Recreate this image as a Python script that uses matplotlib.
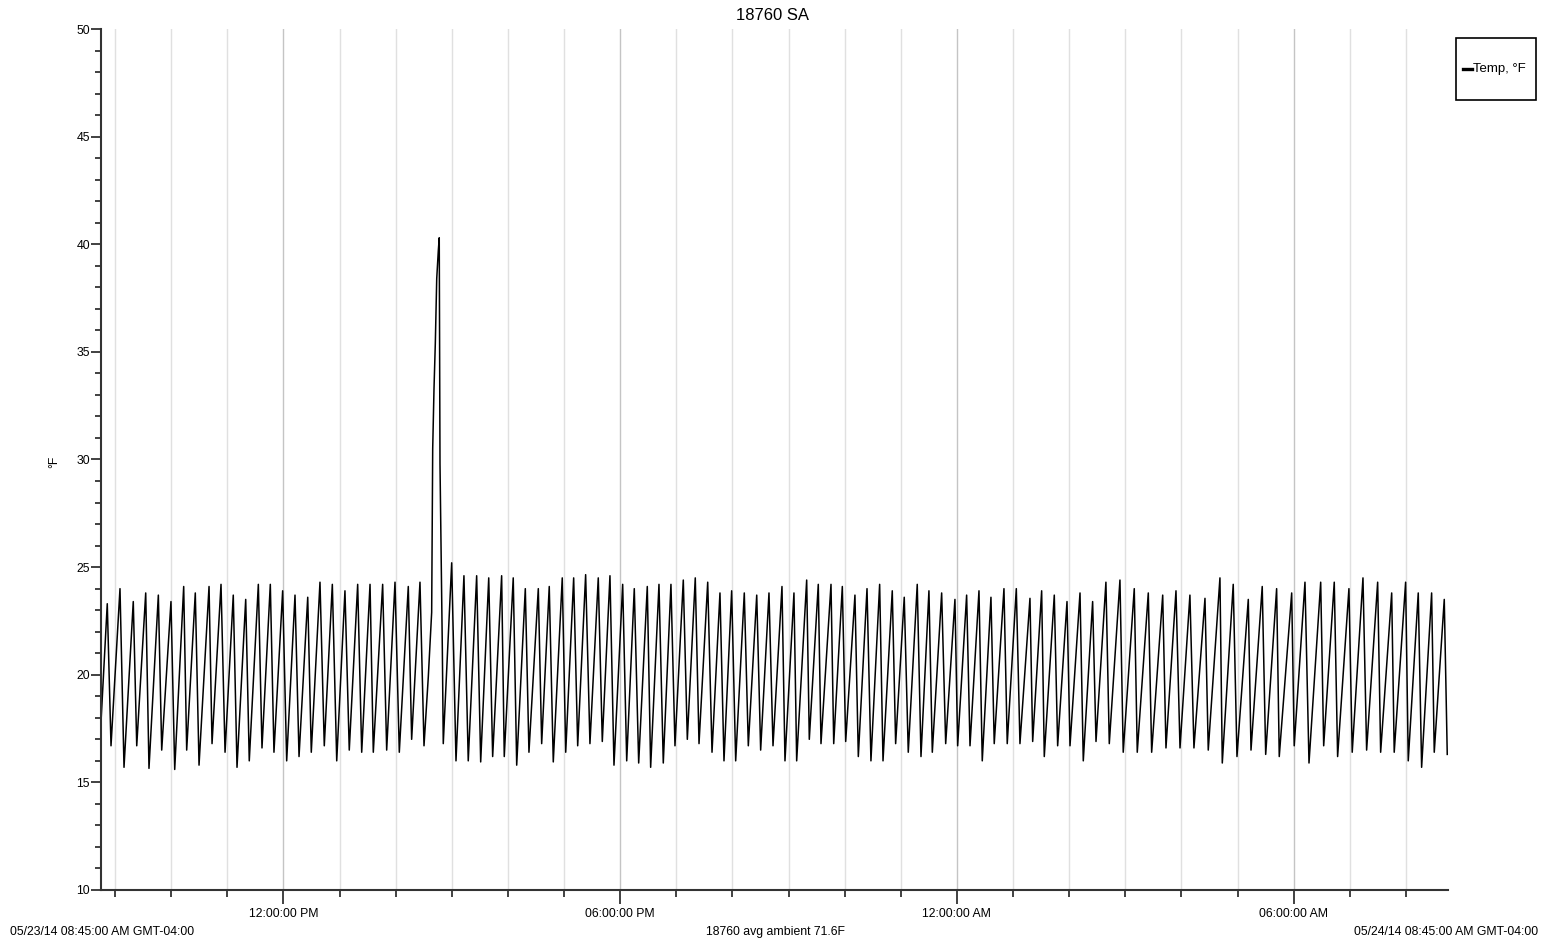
"""
18760 SA temperature log, 24 h window.
"""

import pandas as pd
import matplotlib.pyplot as plt
import matplotlib.dates as mdates
from matplotlib.lines import Line2D
from matplotlib.patches import Rectangle
from matplotlib.ticker import MultipleLocator

plt.rcParams["font.family"] = ["Liberation Sans", "DejaVu Sans"]

start = pd.Timestamp("2014-05-23 08:45:00")

# turning points of the trace: minutes after start, temperature in F
minutes = [
    0.0, 6.7, 10.7, 20.3, 24.6, 34.5, 38.2, 47.8, 51.3, 61.3, 64.9, 74.8, 78.8,
    88.4, 91.6, 100.8, 104.8, 115.5, 118.7, 128.3, 132.6, 141.4, 145.4, 154.7,
    158.5, 168.2, 172.1, 181.0, 184.9, 194.2, 198.5, 207.4, 211.7, 221.0, 224.8,
    234.1, 238.7, 247.3, 252.0, 260.8, 265.4, 274.4, 278.7, 287.6, 291.1, 301.1,
    305.4, 314.3, 318.9, 328.5, 332.1, 341.0, 345.3,
    349.9, 353.5, 354.6, 356.0, 357.4, 358.9, 360.6, 361.6, 362.4, 363.8, 364.9, 365.9,
    374.9, 379.5, 388.0, 392.6, 401.6, 405.9, 414.5, 418.7, 428.3, 431.1, 440.7,
    444.4, 453.6, 457.5, 467.5, 471.1, 479.2, 483.5, 493.1, 496.8, 505.3, 509.6,
    518.1, 522.7, 531.6, 535.9, 544.1, 548.4, 557.7, 562.0, 570.1, 574.8, 584.0,
    587.6, 596.5, 601.1, 609.3, 613.6, 622.5, 626.8, 635.3, 639.3, 648.6, 653.2,
    661.7, 666.0, 674.2, 678.5, 687.7, 692.0, 701.0, 705.2, 714.1, 718.4, 728.0,
    731.2, 740.8, 743.7, 754.4, 757.2, 766.8, 769.7, 780.4, 783.3, 792.5, 796.1,
    806.0, 809.6, 818.9, 823.1, 832.4, 836.0, 845.9, 849.5, 858.7, 863.0, 872.6,
    876.6, 885.1, 888.7, 898.7, 903.0, 912.9, 915.8, 925.4, 929.0, 938.6, 942.1,
    951.4, 954.9, 965.3, 968.8, 978.5, 982.4, 993.1, 996.0, 1005.6, 1008.4,
    1019.1, 1022.7, 1032.7, 1035.9, 1046.6, 1050.1, 1060.1, 1063.7, 1074.3,
    1077.9, 1089.3, 1092.8, 1104.6, 1107.8, 1119.6, 1123.2, 1135.0, 1138.5,
    1149.2, 1153.5, 1164.1, 1168.4, 1180.2, 1183.7, 1196.2, 1198.7, 1210.4,
    1214.4, 1226.5, 1229.4, 1241.4, 1245.1, 1256.8, 1259.6, 1272.9, 1275.6,
    1287.1, 1291.4, 1303.9, 1307.1, 1318.4, 1322.0, 1334.1, 1337.6, 1349.1,
    1353.0, 1364.8, 1368.0, 1379.8, 1382.5, 1394.7, 1397.5, 1408.2, 1411.8,
    1422.5, 1425.3, 1436.0, 1439.2,
]
temps = [
    17.8, 23.3, 16.7, 24.0, 15.7, 23.4, 16.7, 23.8, 15.65, 23.7, 16.5, 23.4, 15.6,
    24.1, 16.5, 23.8, 15.8, 24.1, 16.8, 24.2, 16.4, 23.7, 15.7, 23.5,
    16.0, 24.2, 16.6, 24.2, 16.4, 23.9, 16.0, 23.7, 16.2, 23.6, 16.4,
    24.3, 16.7, 24.2, 16.0, 23.9, 16.5, 24.2, 16.4, 24.2, 16.4, 24.2,
    16.5, 24.3, 16.4, 24.1, 17.0, 24.3, 16.7,
    19.9, 22.9, 30.5, 33.3, 35.4, 38.4, 39.7, 40.3, 29.8, 25.0, 21.2, 16.8,
    25.2, 16.0, 24.6, 16.0, 24.6, 15.95, 24.5, 16.2, 24.6, 16.2, 24.5,
    15.8, 24.0, 16.4, 24.0, 16.8, 24.1, 15.95, 24.5, 16.4, 24.5, 16.7,
    24.65, 16.8, 24.5, 16.9, 24.6, 15.8, 24.2, 16.0, 24.0, 15.9, 24.1,
    15.7, 24.2, 15.9, 24.2, 16.7, 24.4, 17.0, 24.5, 16.8, 24.3, 16.4,
    23.8, 16.0, 23.9, 16.0, 23.8, 16.7, 23.7, 16.5, 23.8, 16.7, 24.1,
    16.0, 23.8, 16.0, 24.4, 17.0, 24.2, 16.8, 24.2, 16.8, 24.1, 16.9,
    23.7, 16.2, 24.0, 16.0, 24.2, 16.0, 23.9, 16.8, 23.6, 16.4, 24.2,
    16.2, 23.9, 16.4, 23.8, 16.8, 23.5, 16.7, 23.7, 16.7, 23.9, 16.0,
    23.6, 16.8, 24.0, 16.8, 24.0, 16.8, 23.55, 16.9, 23.9, 16.2,
    23.7, 16.7, 23.4, 16.7, 23.8, 16.0, 23.4, 16.9, 24.3,
    16.8, 24.4, 16.4, 24.0, 16.4, 23.8, 16.4, 23.7, 16.6,
    23.9, 16.6, 23.7, 16.6, 23.55, 16.5, 24.5, 15.9, 24.2,
    16.2, 23.5, 16.5, 24.1, 16.3, 24.0, 16.2, 23.8, 16.7,
    24.3, 15.9, 24.3, 16.7, 24.3, 16.2, 24.0, 16.4, 24.5,
    16.5, 24.3, 16.4, 23.8, 16.4, 24.3, 16.0, 23.8, 15.7,
    23.8, 16.4, 23.5, 16.3,
]

title = "18760 SA"
series_label = "Temp, °F"
footer_left = "05/23/14 08:45:00 AM GMT-04:00"
footer_mid = "18760 avg ambient 71.6F"
footer_right = "05/24/14 08:45:00 AM GMT-04:00"

times = start + pd.to_timedelta(minutes, unit="min")
end = start + pd.Timedelta(hours=24)

W, H = 1545, 943
fig = plt.figure(figsize=(W / 100, H / 100), dpi=100)
ax = fig.add_axes([101 / W, 53 / H, 1347 / W, 861 / H])

ax.plot(times, temps, color="black", lw=1.1, label=series_label)

ax.set_xlim(start, end)
ax.set_ylim(10, 50)

ax.xaxis.set_major_locator(mdates.HourLocator(byhour=[0, 6, 12, 18]))
ax.xaxis.set_minor_locator(mdates.HourLocator())
ax.xaxis.set_major_formatter(mdates.DateFormatter("%I:%M:%S %p"))
ax.yaxis.set_major_locator(MultipleLocator(5))
ax.yaxis.set_minor_locator(MultipleLocator(1))

ax.grid(True, axis="x", which="minor", color="#e0e0e0", lw=1.0)
ax.grid(True, axis="x", which="major", color="#c4c4c4", lw=1.0)
ax.set_axisbelow(True)

for side in ["top", "right"]:
    ax.spines[side].set_visible(False)
for side in ["left", "bottom"]:
    ax.spines[side].set_color("#333333")
    ax.spines[side].set_linewidth(1.5)

fs = 8.8
ax.tick_params(axis="x", which="major", length=10, width=1.3, color="#333333",
               labelsize=fs, pad=3)
ax.tick_params(axis="x", which="minor", length=5, width=1.3, color="#333333")
ax.tick_params(axis="y", which="major", length=7, width=1.3, color="#333333",
               labelsize=fs, pad=1)
ax.tick_params(axis="y", which="minor", length=4, width=1.3, color="#333333")

ax.set_ylabel("°F", fontsize=fs)
ax.yaxis.set_label_coords(-0.0305, 0.497)

fig.text(772 / W, 1 - 15 / H, title, ha="center", va="center", fontsize=12)
fig.text(10 / W, 1 - 932 / H, footer_left, ha="left", va="center", fontsize=fs)
fig.text(775 / W, 1 - 932 / H, footer_mid, ha="center", va="center", fontsize=fs)
fig.text(1538 / W, 1 - 932 / H, footer_right, ha="right", va="center", fontsize=fs)

# legend box drawn by hand: tall box with a short thick swatch
fig.patches.append(Rectangle((1456 / W, 1 - 100 / H), 80 / W, 62 / H,
                             transform=fig.transFigure, fill=False,
                             edgecolor="black", lw=1.2))
fig.lines.append(Line2D([1463 / W, 1472 / W], [1 - 69 / H, 1 - 69 / H],
                        transform=fig.transFigure, color="black", lw=2.4))
fig.text(1473 / W, 1 - 69 / H, series_label, ha="left", va="center", fontsize=9.5)

fig.savefig("out.png", dpi=100)
